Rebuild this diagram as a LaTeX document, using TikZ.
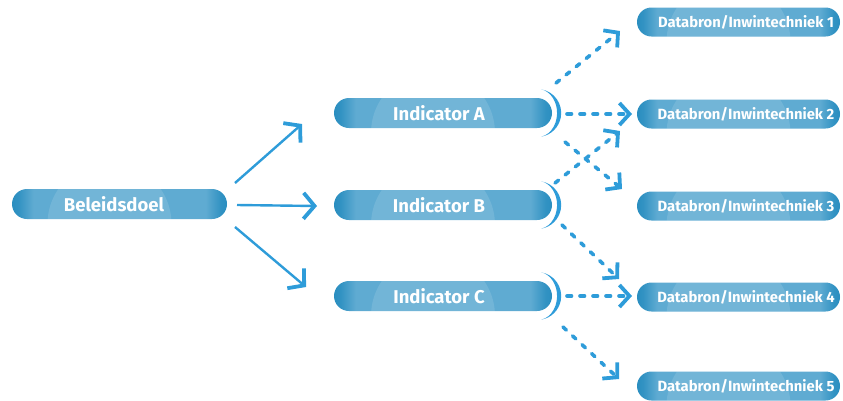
\documentclass[tikz,border=0pt]{standalone}
\usepackage{fontspec}
\setmainfont{Fira Sans}
\usetikzlibrary{arrows.meta,shapes.misc}
\definecolor{arrowblue}{HTML}{2E9CD9}
\definecolor{pilldark}{HTML}{2A8EC0}
\definecolor{pillmid}{HTML}{5FABD2}
\pgfdeclarehorizontalshading{pillshade}{100bp}{color(0bp)=(pilldark); color(25bp)=(pilldark); color(26.5bp)=(pilldark!85!pillmid); color(30bp)=(pillmid); color(70bp)=(pillmid); color(73.5bp)=(pilldark!85!pillmid); color(75bp)=(pilldark); color(100bp)=(pilldark)}
\begin{document}
\begin{tikzpicture}[x=1pt,y=-1pt,
  pill/.style={rounded rectangle, minimum height=30pt, inner sep=0pt, text=white,
    shade, shading=pillshade,
    path picture={\fill[white,opacity=0.12] ([xshift=-10pt,yshift=-20pt]path picture bounding box.center) circle (62pt);}},
  bigtext/.style={font=\bfseries\fontsize{18.5}{18.5}\selectfont},
  smalltext/.style={font=\bfseries\fontsize{14.8}{14.8}\selectfont, minimum height=29pt},
  sarrow/.style={arrowblue, line width=2.4pt, -{Straight Barb[length=11pt,width=26pt,line width=3.8pt]}},
  darrow/.style={arrowblue, line width=3.6pt, line cap=round, dash pattern=on 4.5pt off 8.5pt,
    -{Straight Barb[length=10pt,width=22pt,line width=3.8pt]}},
  crescent/.style={fill=arrowblue}
]
\useasboundingbox (0,0) rectangle (843,400);

% pills
\node[pill, bigtext, minimum width=215pt] (bd) at (119.5,204) {Beleidsdoel\hspace*{11pt}\mbox{}};
\node[pill, bigtext, minimum width=218pt] (ia) at (443,113) {Indicator A\hspace*{8pt}\mbox{}};
\node[pill, bigtext, minimum width=218pt] (ib) at (443,205) {Indicator B\hspace*{8pt}\mbox{}};
\node[pill, bigtext, minimum width=218pt] (ic) at (443,296) {Indicator C\hspace*{8pt}\mbox{}};
\node[pill, smalltext, minimum width=203pt] (d1) at (738.5,22)  {\hspace{15pt}Databron/Inwintechniek 1};
\node[pill, smalltext, minimum width=203pt] (d2) at (738.5,114) {\hspace{15pt}Databron/Inwintechniek 2};
\node[pill, smalltext, minimum width=203pt] (d3) at (738.5,206) {\hspace{15pt}Databron/Inwintechniek 3};
\node[pill, smalltext, minimum width=203pt] (d4) at (738.5,297) {\hspace{15pt}Databron/Inwintechniek 4};
\node[pill, smalltext, minimum width=203pt] (d5) at (738.5,386) {\hspace{15pt}Databron/Inwintechniek 5};

% crescents
\foreach \n in {ia,ib,ic}
  \fill[crescent] ([xshift=-15pt]\n.east) ++(-80:24) arc[start angle=-80,end angle=80,radius=24]
    arc[start angle=80,end angle=-80,x radius=19,y radius=24] -- cycle;

% solid arrows
\coordinate (s1a) at (235,183); \coordinate (s1b) at (302,124);
\coordinate (s2a) at (237,205); \coordinate (s2b) at (317,206);
\coordinate (s3a) at (235,227); \coordinate (s3b) at (306,287);
\draw[sarrow] (s1a) -- (s1b);
\draw[sarrow] (s2a) -- (s2b);
\draw[sarrow] (s3a) -- (s3b);

% dashed arrows
\coordinate (a1) at (556,83);  \coordinate (b1) at (620,31);
\coordinate (a2) at (567,114); \coordinate (b2) at (632,114);
\coordinate (a3) at (565,142); \coordinate (b3) at (622,189);
\coordinate (a4) at (555,183); \coordinate (b4) at (620,131);
\coordinate (a5) at (562,225); \coordinate (b5) at (619,279);
\coordinate (a6) at (567,296); \coordinate (b6) at (632,296);
\coordinate (a7) at (563,327); \coordinate (b7) at (619,379);
\foreach \i in {1,...,7}
  \draw[darrow] (a\i) -- (b\i);
\end{tikzpicture}
\end{document}
